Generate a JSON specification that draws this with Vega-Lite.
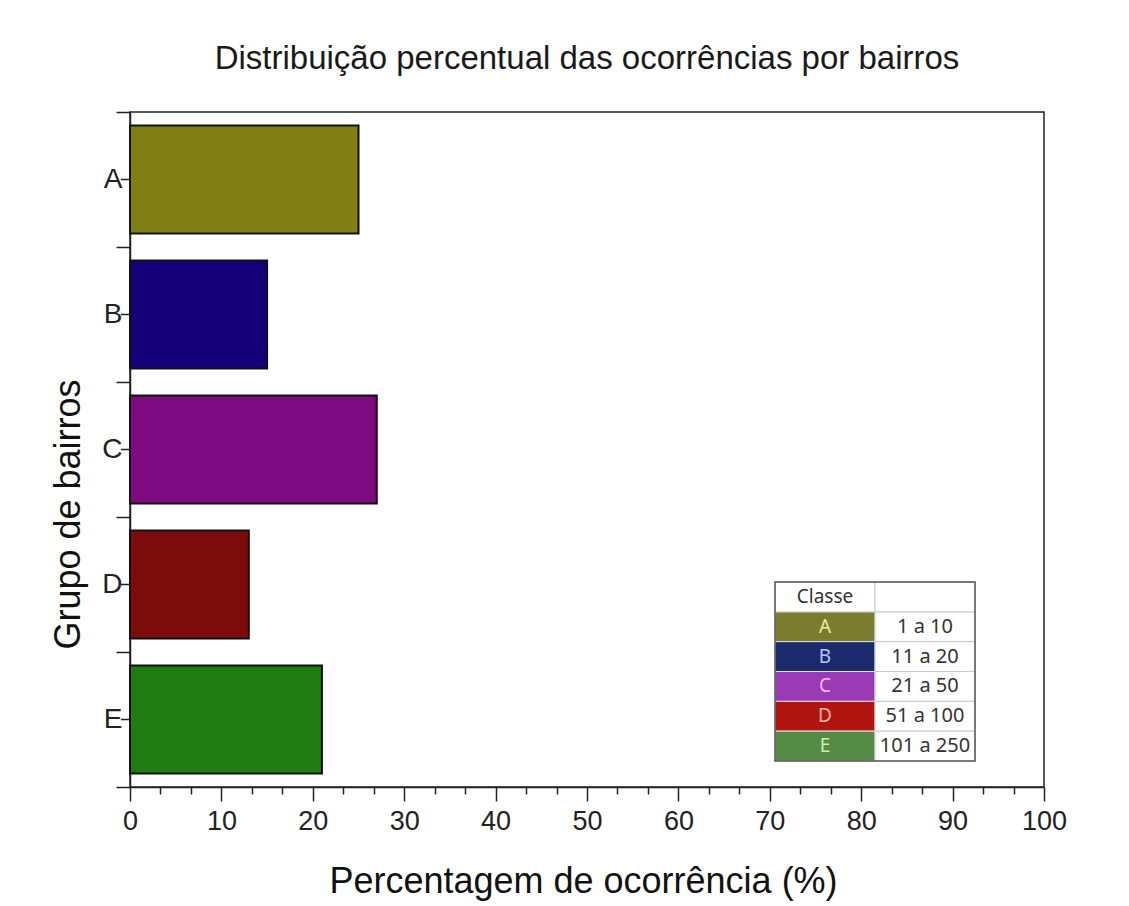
{
  "$schema": "https://vega.github.io/schema/vega-lite/v6.json",
  "width": 914,
  "height": 675,
  "autosize": {"type": "none"},
  "padding": {"left": 130, "top": 112, "right": 85, "bottom": 119},
  "background": "white",
  "title": {
    "text": "Distribuição percentual das ocorrências por bairros",
    "font": "Liberation Sans",
    "fontSize": 33,
    "fontWeight": "normal",
    "color": "#1a1a1a",
    "offset": 22,
    "anchor": "middle"
  },
  "config": {
    "view": {"stroke": "#222", "strokeWidth": 1.5},
    "axis": {"grid": false, "domainColor": "#222", "domainWidth": 1.5, "tickColor": "#222", "tickWidth": 1.5}
  },
  "datasets": {
    "bairros": [
      {"grupo": "A", "percentual": 25},
      {"grupo": "B", "percentual": 15},
      {"grupo": "C", "percentual": 27},
      {"grupo": "D", "percentual": 13},
      {"grupo": "E", "percentual": 21}
    ],
    "classes": [
      {"classe": "A", "faixa": "1 a 10"},
      {"classe": "B", "faixa": "11 a 20"},
      {"classe": "C", "faixa": "21 a 50"},
      {"classe": "D", "faixa": "51 a 100"},
      {"classe": "E", "faixa": "101 a 250"}
    ],
    "cabecalho": [{"cabecalho": "Classe"}]
  },
  "resolve": {"scale": {"y": "independent", "color": "independent"}},
  "layer": [
    {
      "data": {"name": "bairros"},
      "mark": {"type": "bar", "stroke": "#111", "strokeWidth": 2, "height": {"band": 0.8}},
      "encoding": {
        "y": {
          "field": "grupo", "type": "nominal",
          "scale": {"domain": ["A", "B", "C", "D", "E"], "paddingInner": 0, "paddingOuter": 0},
          "axis": {
            "title": "Grupo de bairros",
            "titleFont": "Liberation Sans", "titleFontSize": 36, "titleFontWeight": "normal", "titleColor": "#111",
            "titlePadding": 14, "titleY": 402,
            "labelFont": "Liberation Sans", "labelFontSize": 28, "labelColor": "#222", "labelPadding": -6,
            "labelAngle": 0,
            "tickBand": "extent", "tickSize": 14
          }
        },
        "x": {
          "field": "percentual", "type": "quantitative",
          "scale": {"domain": [0, 100]},
          "axis": {
            "title": "Percentagem de ocorrência (%)",
            "titleFont": "Liberation Sans", "titleFontSize": 36, "titleFontWeight": "normal", "titleColor": "#111",
            "titlePadding": 30, "titleX": 453,
            "values": [0, 3.333, 6.667, 10, 13.333, 16.667, 20, 23.333, 26.667, 30, 33.333, 36.667, 40, 43.333, 46.667, 50, 53.333, 56.667, 60, 63.333, 66.667, 70, 73.333, 76.667, 80, 83.333, 86.667, 90, 93.333, 96.667, 100],
            "tickCount": 100,
            "labelExpr": "abs(datum.value % 10) < 0.01 ? format(datum.value, 'd') : ''",
            "tickSize": {"condition": {"test": "abs(datum.value % 10) < 0.01", "value": 14}, "value": 7},
            "labelFont": "Liberation Sans", "labelFontSize": 27, "labelColor": "#222", "labelPadding": 7,
            "labelFlush": false, "labelOverlap": false
          }
        },
        "color": {
          "field": "grupo", "type": "nominal",
          "scale": {"domain": ["A", "B", "C", "D", "E"], "range": ["#7f7f14", "#15007a", "#7d0a7e", "#7c0c0c", "#1f7c10"]},
          "legend": null
        }
      }
    },
    {
      "data": {"name": "bairros"},
      "mark": {"type": "rule", "color": "#222", "strokeWidth": 1.5},
      "encoding": {
        "y": {"field": "grupo", "type": "nominal", "scale": {"domain": ["A", "B", "C", "D", "E"], "paddingInner": 0, "paddingOuter": 0}, "axis": null},
        "x": {"datum": 0},
        "x2": {"datum": -1.0}
      }
    },
    {
      "data": {"name": "classes"},
      "mark": {"type": "rect", "stroke": "#e0e0e0", "strokeWidth": 1},
      "encoding": {
        "y": {"field": "classe", "type": "nominal", "scale": {"domain": ["Classe", "A", "B", "C", "D", "E"], "range": [470, 649], "paddingInner": 0, "paddingOuter": 0}, "axis": null},
        "x": {"datum": 70.57},
        "x2": {"datum": 81.51},
        "color": {
          "field": "classe", "type": "nominal",
          "scale": {"domain": ["A", "B", "C", "D", "E"], "range": ["#7b7c2e", "#1b2a6c", "#9b3ab5", "#b0160f", "#558b45"]},
          "legend": null
        }
      }
    },
    {
      "data": {"name": "classes"},
      "mark": {"type": "rect", "fill": "white", "stroke": "#c8c8c8", "strokeWidth": 1},
      "encoding": {
        "y": {"field": "classe", "type": "nominal", "scale": {"domain": ["Classe", "A", "B", "C", "D", "E"], "range": [470, 649], "paddingInner": 0, "paddingOuter": 0}, "axis": null},
        "x": {"datum": 81.51},
        "x2": {"datum": 92.45}
      }
    },
    {
      "data": {"name": "cabecalho"},
      "mark": {"type": "rect", "fill": "white", "stroke": "#c8c8c8", "strokeWidth": 1},
      "encoding": {
        "y": {"field": "cabecalho", "type": "nominal", "scale": {"domain": ["Classe", "A", "B", "C", "D", "E"], "range": [470, 649], "paddingInner": 0, "paddingOuter": 0}, "axis": null},
        "x": {"datum": 70.57},
        "x2": {"datum": 81.51}
      }
    },
    {
      "data": {"name": "cabecalho"},
      "mark": {"type": "rect", "fill": "white", "stroke": "#c8c8c8", "strokeWidth": 1},
      "encoding": {
        "y": {"field": "cabecalho", "type": "nominal", "scale": {"domain": ["Classe", "A", "B", "C", "D", "E"], "range": [470, 649], "paddingInner": 0, "paddingOuter": 0}, "axis": null},
        "x": {"datum": 81.51},
        "x2": {"datum": 92.45}
      }
    },
    {
      "data": {"name": "cabecalho"},
      "mark": {"type": "text", "font": "Noto Sans", "fontSize": 19, "color": "#333"},
      "encoding": {
        "y": {"field": "cabecalho", "type": "nominal", "scale": {"domain": ["Classe", "A", "B", "C", "D", "E"], "range": [470, 649], "paddingInner": 0, "paddingOuter": 0}, "axis": null},
        "x": {"datum": 76.04},
        "text": {"field": "cabecalho"}
      }
    },
    {
      "data": {"name": "classes"},
      "mark": {"type": "text", "font": "Noto Sans", "fontSize": 19},
      "encoding": {
        "y": {"field": "classe", "type": "nominal", "scale": {"domain": ["Classe", "A", "B", "C", "D", "E"], "range": [470, 649], "paddingInner": 0, "paddingOuter": 0}, "axis": null},
        "x": {"datum": 76.04},
        "text": {"field": "classe"},
        "color": {
          "field": "classe", "type": "nominal",
          "scale": {"domain": ["A", "B", "C", "D", "E"], "range": ["#ecec9c", "#b8c4f4", "#f4b8f4", "#f4b4a4", "#c8f0b8"]},
          "legend": null
        }
      }
    },
    {
      "data": {"name": "classes"},
      "mark": {"type": "text", "font": "Noto Sans", "fontSize": 20, "color": "#333"},
      "encoding": {
        "y": {"field": "classe", "type": "nominal", "scale": {"domain": ["Classe", "A", "B", "C", "D", "E"], "range": [470, 649], "paddingInner": 0, "paddingOuter": 0}, "axis": null},
        "x": {"datum": 86.98},
        "text": {"field": "faixa"}
      }
    },
    {
      "data": {"name": "cabecalho"},
      "mark": {"type": "rect", "filled": false, "stroke": "#555", "strokeWidth": 1.5},
      "encoding": {
        "y": {"datum": "topo", "type": "nominal", "scale": {"type": "point", "domain": ["topo", "base"], "range": [470, 649], "padding": 0}, "axis": null},
        "y2": {"datum": "base"},
        "x": {"datum": 70.57},
        "x2": {"datum": 92.45}
      }
    }
  ]
}
